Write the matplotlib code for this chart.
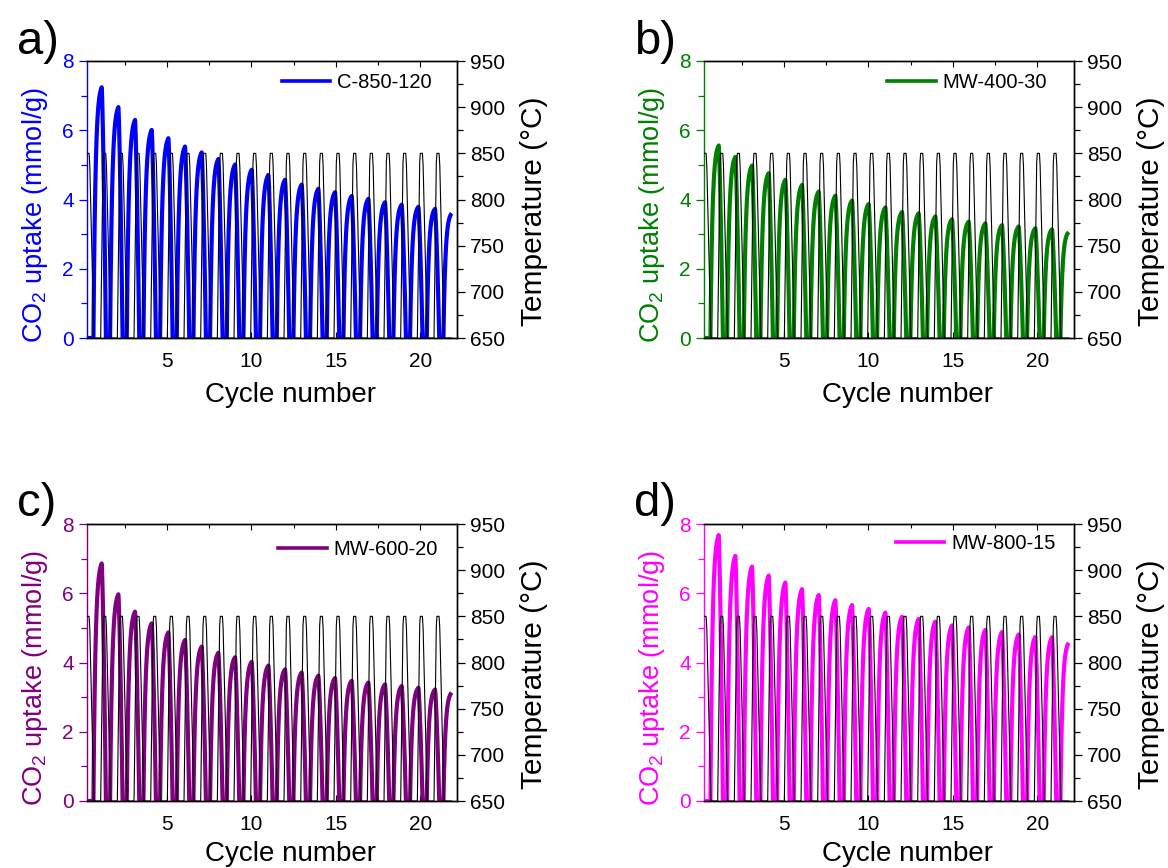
import numpy as np
import matplotlib
matplotlib.use('Agg')
import matplotlib.pyplot as plt
from matplotlib.lines import Line2D
from matplotlib.ticker import MultipleLocator

plt.rcParams['font.family'] = ['Liberation Sans', 'DejaVu Sans']
plt.rcParams['mathtext.fontset'] = 'custom'
plt.rcParams['mathtext.rm'] = 'Liberation Sans'
plt.rcParams['mathtext.it'] = 'Liberation Sans:italic'
plt.rcParams['mathtext.bf'] = 'Liberation Sans:bold'

# ---------------- data ----------------
panel_letters = ['a)', 'b)', 'c)', 'd)']
sample_names = ['C-850-120', 'MW-400-30', 'MW-600-20', 'MW-800-15']
sample_colors = ['#0000FF', '#008000', '#800080', '#FF00FF']

# CO2 uptake at the end of each carbonation step (mmol/g), cycles 1..21 + last (partial) step
peaks_c850_120 = [7.24, 6.67, 6.30, 6.01, 5.77, 5.53, 5.36, 5.17, 5.01, 4.86, 4.71,
                  4.57, 4.43, 4.31, 4.21, 4.10, 4.02, 3.92, 3.85, 3.79, 3.73, 3.60]
peaks_mw400_30 = [5.56, 5.23, 4.98, 4.76, 4.57, 4.42, 4.23, 4.11, 3.97, 3.87, 3.77,
                  3.64, 3.60, 3.51, 3.43, 3.36, 3.31, 3.26, 3.22, 3.17, 3.14, 3.06]
peaks_mw600_20 = [6.86, 5.97, 5.47, 5.13, 4.87, 4.65, 4.46, 4.28, 4.15, 4.02, 3.91,
                  3.80, 3.71, 3.62, 3.55, 3.47, 3.42, 3.37, 3.32, 3.27, 3.22, 3.13]
peaks_mw800_15 = [7.68, 7.08, 6.77, 6.51, 6.31, 6.12, 5.95, 5.80, 5.66, 5.55, 5.44,
                  5.32, 5.26, 5.18, 5.07, 5.01, 4.94, 4.88, 4.81, 4.74, 4.73, 4.57]
all_peaks = [peaks_c850_120, peaks_mw400_30, peaks_mw600_20, peaks_mw800_15]

temp_carbonation = 650   # degC
temp_calcination = 850   # degC

x_ticks = [5, 10, 15, 20]
y_ticks = [0, 2, 4, 6, 8]
t_ticks = [650, 700, 750, 800, 850, 900, 950]

# ---------------- cycle timing (x in cycle-number units) ----------------
first_peak = 1.14
period = 0.986
x_data_start = 0.27
rise_len = 0.49
drop_len = 0.25
k_rise = 4.0


def uptake_curve(peaks):
    n = len(peaks)
    xs, ys = [], []
    pk_x = [first_peak + i * period for i in range(n)]
    xs.append(np.array([x_data_start, pk_x[0] - rise_len]))
    ys.append(np.zeros(2))
    for i, p in enumerate(peaks):
        s = np.linspace(0, 1, 40)
        xr = pk_x[i] - rise_len + s * rise_len
        yr = p * (1 - np.exp(-k_rise * s)) / (1 - np.exp(-k_rise))
        xs.append(xr)
        ys.append(yr)
        if i < n - 1:
            u = np.linspace(0, 1, 20)
            xd = pk_x[i] + u * drop_len
            yd = p * (1 - u ** 1.4)
            xs.append(xd)
            ys.append(yd)
            xs.append(np.array([pk_x[i] + drop_len, pk_x[i + 1] - rise_len]))
            ys.append(np.zeros(2))
    return np.concatenate(xs), np.concatenate(ys), pk_x


def temp_curve(pk_x):
    lo, hi = temp_carbonation, temp_calcination
    rel = [-0.06, 0.07, 0.11, 0.24, 0.28, 0.52]
    vals = [lo, hi - 12, hi, hi, hi - 12, lo]
    xs, ys = [], []
    centers = [pk_x[0] - period] + pk_x[:-1]
    for c in centers:
        for r, v in zip(rel, vals):
            xs.append(c + r)
            ys.append(v)
    xs = np.array(xs)
    ys = np.array(ys, dtype=float)
    x_end = pk_x[-1]
    xx = np.linspace(x_data_start, x_end, 6000)
    yy = np.interp(xx, xs, ys, left=lo, right=lo)
    return xx, yy


fig = plt.figure(figsize=(11.68, 8.68), dpi=100)
W, H = 1168.0, 868.0
ax_px = [(87, 61), (704, 61), (87, 524), (704, 524)]  # left, top in px
ax_w, ax_h = 370, 277
legend_anchor = [(0.932, 0.921), (0.928, 0.922), (0.949, 0.909), (0.951, 0.930)]
letter_px = [(17, 54), (634, 54), (17, 516), (634, 516)]
xlabel_y = [-0.158, -0.158, -0.146, -0.146]

for idx in range(4):
    lx, ty = ax_px[idx]
    ax = fig.add_axes([lx / W, 1 - (ty + ax_h) / H, ax_w / W, ax_h / H])
    ax2 = ax.twinx()
    col = sample_colors[idx]

    xc, yc, pk_x = uptake_curve(all_peaks[idx])
    xt, yt = temp_curve(pk_x)

    ax.plot(xc, yc, color=col, lw=3.0, solid_capstyle='butt', solid_joinstyle='round')
    ax2.plot(xt, yt, color='black', lw=0.8)

    ax.set_xlim(0.27, 22.16)
    ax.set_ylim(0, 8)
    ax2.set_ylim(650, 950)

    ax.set_xticks(x_ticks)
    ax.xaxis.set_minor_locator(MultipleLocator(2.5))
    ax.set_yticks(y_ticks)
    ax.yaxis.set_minor_locator(MultipleLocator(1))
    ax2.set_yticks(t_ticks)
    ax2.yaxis.set_minor_locator(MultipleLocator(25))

    ax.tick_params(axis='x', which='both', direction='in', top=True, bottom=True,
                   labelsize=15, pad=10, color='black')
    ax.tick_params(axis='x', which='major', length=4, width=0.8)
    ax.tick_params(axis='x', which='minor', length=3, width=0.8)
    ax.tick_params(axis='y', which='both', direction='out', colors=col, labelsize=15, width=0.9)
    ax.tick_params(axis='y', which='major', length=6)
    ax.tick_params(axis='y', which='minor', length=4)
    ax2.tick_params(axis='y', which='both', direction='out', colors='black', labelsize=15, width=0.9)
    ax2.tick_params(axis='y', which='major', length=6)
    ax2.tick_params(axis='y', which='minor', length=4)

    for sp in ['top', 'bottom', 'right']:
        ax.spines[sp].set_linewidth(1.0)
        ax2.spines[sp].set_linewidth(1.0)
    ax.spines['left'].set_color(col)
    ax.spines['left'].set_linewidth(1.0)
    ax2.spines['left'].set_visible(False)

    ax.set_xlabel('Cycle number', fontsize=20)
    ax.xaxis.set_label_coords(0.549, xlabel_y[idx])
    ax.set_ylabel('CO$_2$ uptake (mmol/g)', fontsize=19.5, color=col)
    ax.yaxis.set_label_coords(-0.10, 0.444)
    ax2.set_ylabel('Temperature (°C)', fontsize=21.5, color='black')
    ax2.yaxis.set_label_coords(1.170, 0.458)

    handle = Line2D([], [], color=col, lw=2.6)
    ax2.legend([handle], [sample_names[idx]], loc='center right',
               bbox_to_anchor=legend_anchor[idx], frameon=False, fontsize=14.5,
               borderpad=0, borderaxespad=0, handlelength=2.4, handletextpad=0.35)

    fig.text(letter_px[idx][0] / W, 1 - letter_px[idx][1] / H, panel_letters[idx],
             fontsize=34, va='baseline', ha='left')

fig.savefig('out.png', dpi=100)
